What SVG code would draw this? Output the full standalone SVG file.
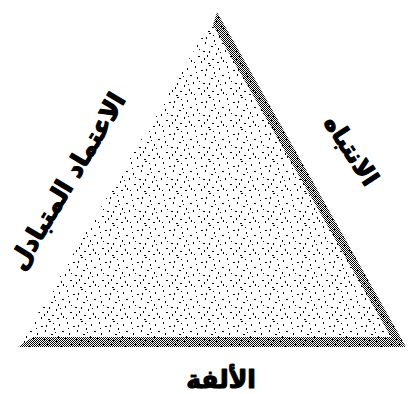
<svg xmlns="http://www.w3.org/2000/svg" width="408" height="394" viewBox="0 0 408 394">
<style>
.lbl{font-family:"DejaVu Sans",sans-serif;font-weight:bold;fill:#000;stroke:#000;stroke-width:1.2px;stroke-linejoin:round}
</style>
<defs>
<pattern id="stip" width="32" height="32" patternUnits="userSpaceOnUse">
<path fill="#000" d="M3 2h1v2h-1z M17 1h2v1h-2z M27 4h1v2h-1z M9 6h2v1h-2z M22 8h1v2h-1z M13 10h1v2h-1z M30 11h2v1h-2z M5 13h1v2h-1z M19 14h2v1h-2z M26 16h1v2h-1z M1 18h1v2h-1z M11 19h2v1h-2z M24 21h1v2h-1z M15 23h1v2h-1z M6 24h2v1h-2z M29 25h1v2h-1z M20 27h2v1h-2z M9 29h1v2h-1z M2 30h1v1h-1z M25 30h2v1h-2z M14 5h1v2h-1z M7 17h1v1h-1z M17 19h1v2h-1z M28 20h1v1h-1z M12 26h1v2h-1z M4 8h1v1h-1z M21 3h1v1h-1z M31 28h1v2h-1z M16 31h2v1h-2z M23 12h1v1h-1z"/>
</pattern>
<pattern id="hatch" width="2" height="2" patternUnits="userSpaceOnUse">
<rect x="0" y="0" width="1" height="1" fill="#000"/>
<rect x="1" y="1" width="1" height="1" fill="#000"/>
</pattern>
</defs>
<g id="triangle">
<polygon points="18,347 217,12 406,347" fill="url(#stip)"/>
</g>
<g id="edges">
<polygon id="right-band" points="217,12 406,347 391,337 213,25" fill="url(#hatch)"/>
<polygon id="bottom-band" points="18,347 406,347 391,337 33,337" fill="url(#hatch)"/>
</g>
<g id="label-left">
<text class="lbl" font-size="25" text-anchor="middle" transform="translate(67,181) rotate(-59)" y="9">الاعتماد المتبادل</text>
</g>
<g id="label-right">
<text class="lbl" font-size="24" text-anchor="middle" transform="translate(352,150) rotate(57)" y="9">الانتباه</text>
</g>
<g id="label-bottom">
<text class="lbl" font-size="25" text-anchor="middle" x="221" y="388">الألفة</text>
</g>
</svg>
